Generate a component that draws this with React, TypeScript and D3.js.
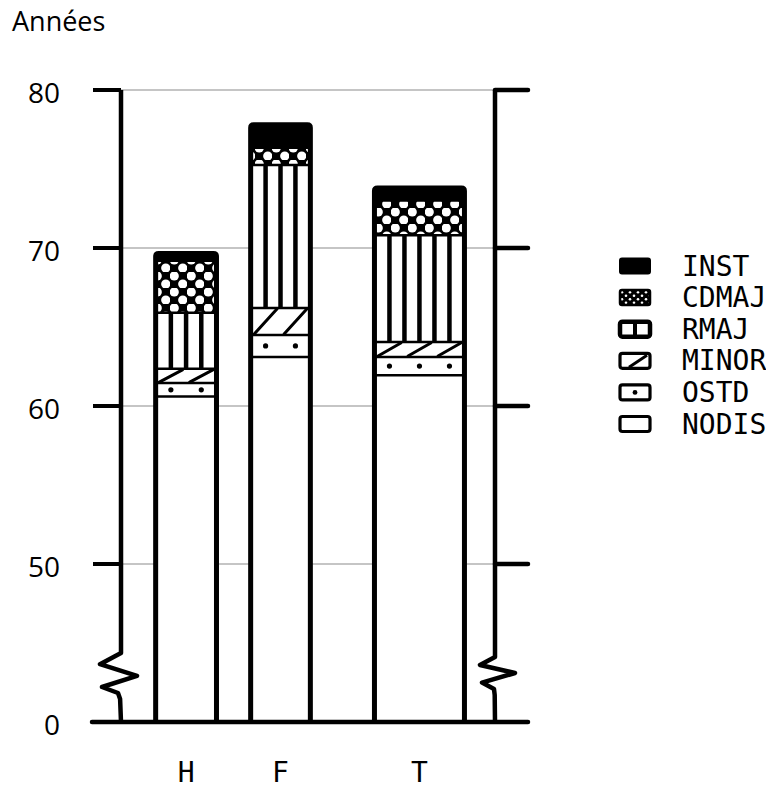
import React from 'react';
import * as d3 from 'd3';

// --- data (in years) ---
const categories = ['H', 'F', 'T'];
const seriesNames = ['NODIS', 'OSTD', 'MINOR', 'RMAJ', 'CDMAJ', 'INST']; // bottom -> top
const nodis = [60.6, 63.1, 61.95];
const ostd = [0.85, 1.4, 1.15];
const minor = [0.9, 1.7, 0.95];
const rmaj = [3.55, 9.05, 6.75];
const cdmaj = [3.3, 1.1, 2.2];
const inst = [0.45, 1.45, 0.8];
const tickValues = [0, 50, 60, 70, 80];
const gridValues = [50, 60, 70, 80];
const legendOrder = ['INST', 'CDMAJ', 'RMAJ', 'MINOR', 'OSTD', 'NODIS'];

// layout: bar extents along the horizontal axis (0..100 of the frame)
const barExtent: Record<string, [number, number]> = {
  H: [8.6, 26.2],
  F: [34.0, 51.3],
  T: [67.1, 92.5],
};

const W = 766;
const H = 789;
const FONT_SANS = '"Open Sans", "DejaVu Sans", sans-serif';
const FONT_MONO = '"DejaVu Sans Mono", "Liberation Mono", monospace';

const y = d3.scaleLinear().domain([40, 80]).range([722, 90]).clamp(true);
const x = d3.scaleLinear().domain([0, 100]).range([121, 495]);

const table = categories.map((c, i) => ({
  cat: c,
  NODIS: nodis[i],
  OSTD: ostd[i],
  MINOR: minor[i],
  RMAJ: rmaj[i],
  CDMAJ: cdmaj[i],
  INST: inst[i],
}));
const stacked = d3.stack<any>().keys(seriesNames)(table);

const BORDER = 5;

// draws the inner texture of one segment
function Segment({ name, x0, x1, yTop, yBot }: any) {
  const w = x1 - x0;
  const h = yBot - yTop;
  const els: any[] = [];
  if (name === 'INST') {
    els.push(<rect key="f" x={x0} y={yTop} width={w} height={h} fill="#000" />);
  } else if (name === 'CDMAJ') {
    els.push(<rect key="f" x={x0} y={yTop} width={w} height={h} fill="url(#cdmaj)" />);
  } else {
    els.push(<rect key="f" x={x0} y={yTop} width={w} height={h} fill="#fff" />);
  }
  if (name === 'RMAJ') {
    const n = Math.max(2, Math.round(w / 14.5));
    d3.range(1, n).forEach((k) => {
      const xx = x0 + (w * k) / n;
      els.push(<line key={'r' + k} x1={xx} x2={xx} y1={yTop} y2={yBot} stroke="#000" strokeWidth={4.5} />);
    });
  }
  if (name === 'MINOR') {
    const n = Math.max(1, Math.round(w / 29));
    const cw = w / n;
    d3.range(n).forEach((k) => {
      const cx = x0 + k * cw;
      els.push(
        <line key={'m' + k} x1={cx + cw * 0.12} y1={yBot - 1} x2={cx + cw * 0.88} y2={yTop + 1}
          stroke="#000" strokeWidth={3} strokeLinecap="round" />
      );
    });
  }
  if (name === 'OSTD') {
    const n = Math.max(1, Math.round(w / 29));
    const cw = w / n;
    d3.range(n).forEach((k) => {
      els.push(<circle key={'o' + k} cx={x0 + (k + 0.5) * cw} cy={(yTop + yBot) / 2} r={2.6} fill="#000" />);
    });
  }
  return <g>{els}</g>;
}

function Bar({ cat, i }: any) {
  const [e0, e1] = barExtent[cat];
  const ox0 = x(e0);
  const ox1 = x(e1);
  const ix0 = ox0 + BORDER / 2;
  const ix1 = ox1 - BORDER / 2;
  const top = y(stacked[stacked.length - 1][i][1]);
  const base = y(40);
  return (
    <g>
      <defs>
        <clipPath id={'clip-' + cat}>
          <rect x={ix0} y={top} width={ix1 - ix0} height={base - top} rx={3} />
        </clipPath>
      </defs>
      <g clipPath={`url(#clip-${cat})`}>
        {stacked.map((s) => (
          <Segment key={s.key} name={s.key} x0={ix0} x1={ix1} yTop={y(s[i][1])} yBot={y(s[i][0])} />
        ))}
        {stacked.slice(0, -1).map((s) => (
          <line key={'b' + s.key} x1={ix0} x2={ix1} y1={y(s[i][1])} y2={y(s[i][1])} stroke="#000" strokeWidth={2.5} />
        ))}
      </g>
      <path
        d={`M${ix0},${base} L${ix0},${top + 3} Q${ix0},${top} ${ix0 + 3},${top} L${ix1 - 3},${top} Q${ix1},${top} ${ix1},${top + 3} L${ix1},${base}`}
        fill="none" stroke="#000" strokeWidth={BORDER} />
    </g>
  );
}

function axisPath(ax: number, yA: number, yB: number, offs: number[], ts: number[]) {
  const pts: [number, number][] = [[ax, y(80)], [ax, yA]];
  ts.forEach((t, k) => pts.push([ax + offs[k], yA + (yB - yA) * t]));
  pts.push([ax + offs[offs.length - 1] * 0.3, yB + 6]);
  pts.push([ax, y(40)]);
  return d3.line()(pts) as string;
}

function LegendSwatch({ name, sx, sy }: any) {
  const w = 30;
  const h = 15;
  const els: any[] = [];
  if (name === 'INST') {
    els.push(<rect key="a" x={sx} y={sy} width={w} height={h} rx={2} fill="#000" stroke="#000" strokeWidth={2} />);
  } else if (name === 'CDMAJ') {
    els.push(<rect key="a" x={sx} y={sy} width={w} height={h} rx={2} fill="url(#cdmajSmall)" stroke="#000" strokeWidth={2.5} />);
  } else {
    els.push(<rect key="a" x={sx} y={sy} width={w} height={h} rx={2.5} fill="#fff" stroke="#000" strokeWidth={3.2} />);
    if (name === 'RMAJ') {
      els.push(<line key="b" x1={sx + w / 2} x2={sx + w / 2} y1={sy} y2={sy + h} stroke="#000" strokeWidth={4} />);
      els.push(<rect key="c" x={sx} y={sy} width={w} height={h} rx={2.5} fill="none" stroke="#000" strokeWidth={4.5} />);
    }
    if (name === 'MINOR') {
      els.push(<line key="b" x1={sx + 9} y1={sy + h - 1} x2={sx + w - 3} y2={sy + 2} stroke="#000" strokeWidth={3} />);
    }
    if (name === 'OSTD') {
      els.push(<circle key="b" cx={sx + w / 2} cy={sy + h / 2} r={2.4} fill="#000" />);
    }
  }
  return <g>{els}</g>;
}

export default function App() {
  const leftAx = x(0);
  const rightAx = x(100);
  return (
    <div style={{ position: 'absolute', left: 0, top: 0, width: W, height: H, overflow: 'hidden' }}>
      <svg width={W} height={H} style={{ display: 'block', background: '#fff' }}>
        <defs>
          <pattern id="cdmaj" patternUnits="userSpaceOnUse" width={17} height={16}>
            <rect width={17} height={16} fill="#000" />
            <circle cx={4.25} cy={4} r={4.6} fill="#fff" />
            <circle cx={12.75} cy={12} r={4.6} fill="#fff" />
          </pattern>
          <pattern id="cdmajSmall" patternUnits="userSpaceOnUse" width={8} height={7}>
            <rect width={8} height={7} fill="#000" />
            <circle cx={2} cy={1.75} r={1.3} fill="#fff" />
            <circle cx={6} cy={5.25} r={1.3} fill="#fff" />
          </pattern>
        </defs>

        <text x={12} y={31} fontFamily={FONT_SANS} fontSize={27} fill="#000">Années</text>

        {/* grid */}
        {gridValues.map((v) => (
          <line key={'g' + v} x1={leftAx} x2={rightAx} y1={y(v)} y2={y(v)} stroke="#8c8c8c" strokeWidth={1.2} />
        ))}

        {/* ticks */}
        {gridValues.map((v) => (
          <g key={'t' + v}>
            <line x1={leftAx - 28} x2={leftAx} y1={y(v)} y2={y(v)} stroke="#000" strokeWidth={4} />
            <line x1={rightAx} x2={rightAx + 33} y1={y(v)} y2={y(v)} stroke="#000" strokeWidth={4.5} strokeLinecap="round" />
          </g>
        ))}
        {tickValues.map((v) => (
          <text key={'l' + v} x={60} y={y(v) + 2} textAnchor="end" dominantBaseline="central"
            fontFamily={FONT_SANS} fontSize={28} fill="#000">{v}</text>
        ))}

        {/* bars */}
        {categories.map((c, i) => <Bar key={c} cat={c} i={i} />)}

        {/* axes with breaks */}
        <path d={axisPath(leftAx, 653, 693, [-21, 16, -19, -3], [0.28, 0.57, 0.85, 1])}
          fill="none" stroke="#000" strokeWidth={4.5} strokeLinejoin="round" />
        <path d={axisPath(rightAx, 657, 689, [-15, 20, -13, -1], [0.25, 0.5, 0.8, 1])}
          fill="none" stroke="#000" strokeWidth={4.5} strokeLinejoin="round" />
        <line x1={leftAx - 29} x2={rightAx + 33} y1={y(40)} y2={y(40)} stroke="#000" strokeWidth={4.5} strokeLinecap="round" />

        {/* category labels */}
        {categories.map((c) => (
          <text key={'c' + c} x={x((barExtent[c][0] + barExtent[c][1]) / 2)} y={782} textAnchor="middle"
            fontFamily={FONT_MONO} fontSize={28} fill="#000">{c}</text>
        ))}

        {/* legend */}
        {legendOrder.map((name, k) => {
          const cy = 266 + k * 31.6;
          return (
            <g key={'lg' + name}>
              <LegendSwatch name={name} sx={620} sy={cy - 7.5} />
              <text x={682} y={cy} dominantBaseline="central" fontFamily={FONT_MONO} fontSize={28} fill="#000">{name}</text>
            </g>
          );
        })}
      </svg>
    </div>
  );
}
